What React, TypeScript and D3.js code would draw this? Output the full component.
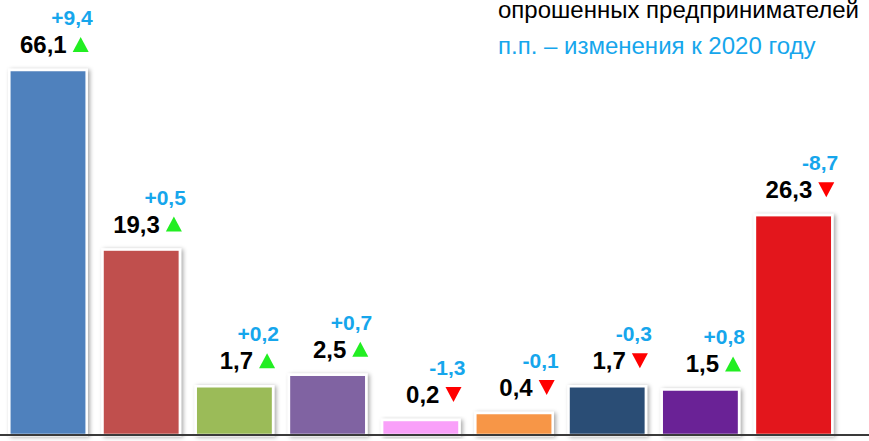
import React from 'react';
import * as d3 from 'd3';

// share of surveyed entrepreneurs, % and change vs 2020 (p.p.)
const categories = ['Кат. 1', 'Кат. 2', 'Кат. 3', 'Кат. 4', 'Кат. 5', 'Кат. 6', 'Кат. 7', 'Кат. 8', 'Кат. 9'];
const values = [66.1, 19.3, 1.7, 2.5, 0.2, 0.4, 1.7, 1.5, 26.3];
const changes = [9.4, 0.5, 0.2, 0.7, -1.3, -0.1, -0.3, 0.8, -8.7];
const colors = ['#4F81BD', '#C0504D', '#9BBB59', '#8064A2', '#F9A0F9', '#F79646', '#2C4D75', '#6A2396', '#E3191B'];
const legendLines = ['опрошенных предпринимателей', 'п.п. – изменения к 2020 году'];

const width = 869;
const height = 441;
const baseY = 435;
const font = '"Liberation Sans", Arial, sans-serif';

const fmt = (v: number) => v.toFixed(1).replace('.', ',');
const fmtChange = (v: number) => (v > 0 ? '+' : '') + fmt(v);

export default function App() {
  const x = d3.scaleBand<string>()
    .domain(categories)
    .range([1.4, 840.2])
    .paddingInner(0.17)
    .paddingOuter(0.085);

  // the original bars are not linear, a power scale follows them best
  const y = d3.scalePow()
    .exponent(0.55)
    .domain([0, d3.max(values) as number])
    .range([baseY, 70]);

  const bw = x.bandwidth();
  const triLine = d3.line();

  return (
    <svg width={width} height={height}
      style={{ position: 'absolute', left: 0, top: 0, background: '#fff' }}
      fontFamily={font}>
      <defs>
        <filter id="shadow" x="-20%" y="-20%" width="140%" height="140%">
          <feDropShadow dx="2" dy="1" stdDeviation="2" floodColor="#000" floodOpacity="0.35" />
        </filter>
      </defs>

      {legendLines.map((t, i) => (
        <text key={t} x={498} y={18 + i * 36} fontSize={24}
          fill={i === 0 ? '#000' : '#16A6EC'}>{t}</text>
      ))}

      {categories.map((c, i) => {
        const x0 = x(c) as number;
        const top = y(values[i]);
        const right = x0 + bw;
        const labelY = top - 17;
        const up = changes[i] >= 0;
        const tr = right + 2;
        const tl = tr - 16;
        const tb = labelY - 1;
        const tt = tb - 15;
        const pts: [number, number][] = up
          ? [[tl, tb], [tr, tb], [(tl + tr) / 2, tt]]
          : [[tl, tt], [tr, tt], [(tl + tr) / 2, tb]];
        return (
          <g key={c}>
            <rect x={x0} y={top} width={bw} height={baseY - top}
              fill={colors[i]} stroke="#fff" strokeWidth={2.5} filter="url(#shadow)" />
            <text x={tl - 6} y={labelY} textAnchor="end" fontSize={24}
              fontWeight="bold" fill="#000">{fmt(values[i])}</text>
            <path d={(triLine(pts) as string) + 'Z'} fill={up ? '#22EE22' : '#FF0000'} />
            <text x={right + 6} y={labelY - 28} textAnchor="end" fontSize={21}
              fontWeight="bold" fill="#16A6EC">{fmtChange(changes[i])}</text>
          </g>
        );
      })}

      <line x1={0} x2={width} y1={baseY} y2={baseY} stroke="#3a3a3a" strokeWidth={2} />
    </svg>
  );
}
